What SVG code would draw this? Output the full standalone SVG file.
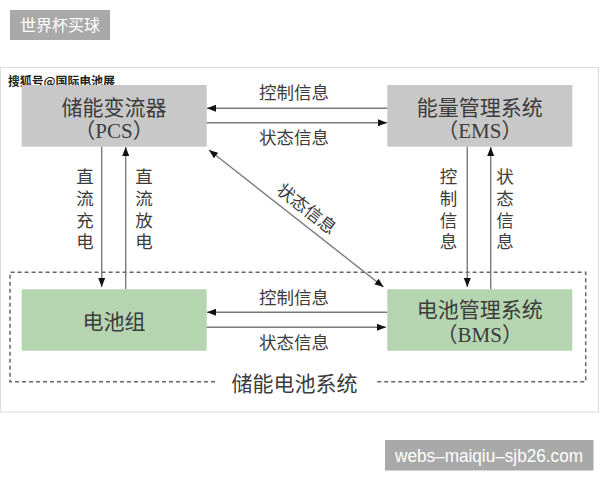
<svg xmlns="http://www.w3.org/2000/svg" width="600" height="480" viewBox="0 0 600 480">
<style>
.t{font-family:"Liberation Serif","Noto Sans CJK SC",serif;fill:#3c3c3c;text-anchor:middle;dominant-baseline:central}
.big{font-size:21px}
.lbl{font-size:17.5px}
.box-g{fill:#c8c8c8}
.box-v{fill:#b4d5af}
.ln{stroke:#7a7a7a;stroke-width:1.4;fill:none}
.wm{font-family:"Liberation Sans","Noto Sans CJK SC",sans-serif;fill:#fff}
</style>
<defs>
<marker id="ah" markerUnits="userSpaceOnUse" markerWidth="10" markerHeight="8" refX="9" refY="3.5" orient="auto-start-reverse">
<path d="M0,0 L9,3.5 L0,7 z" fill="#111"/>
</marker>
</defs>
<rect width="600" height="480" fill="#fff"/>
<g id="top-badge">
<rect x="10" y="10" width="100" height="30" fill="#a9a9a9"/>
<text class="wm" x="60" y="25" font-size="16" text-anchor="middle" dominant-baseline="central" font-family="Noto Sans CJK SC, sans-serif">世界杯买球</text>
</g>
<rect id="frame" x="0.5" y="67.5" width="598" height="344.5" fill="#fff" stroke="#dcdcdc" stroke-width="1"/>
<text id="watermark" x="8" y="80" font-family="Noto Sans CJK SC, sans-serif" font-size="12" font-weight="bold" fill="#222" stroke="#fff" stroke-width="2.5" paint-order="stroke" dominant-baseline="central" textLength="107">搜狐号@国际电池展</text>

<g id="storage-system">
<path d="M215,381.7 H10 V272.3 H585.7 V381.7 H375" fill="none" stroke="#666" stroke-width="1.5" stroke-dasharray="4 3"/>
<text class="t big" x="294.5" y="384">储能电池系统</text>
</g>

<g id="pcs">
<rect class="box-g" x="21.7" y="85" width="185" height="61.7"/>
<text class="t big" x="114" y="108.3">储能变流器</text>
<text class="t big" x="114" y="130.7">（PCS）</text>
</g>
<g id="ems">
<rect class="box-g" x="387.3" y="85" width="185" height="61.7"/>
<text class="t big" x="479.8" y="108.3">能量管理系统</text>
<text class="t big" x="479.8" y="130.7">（EMS）</text>
</g>
<g id="battery">
<rect class="box-v" x="21.7" y="289.3" width="185" height="61.4"/>
<text class="t big" x="114" y="321.7">电池组</text>
</g>
<g id="bms">
<rect class="box-v" x="387.3" y="289.3" width="185" height="61.4"/>
<text class="t big" x="479.8" y="310">电池管理系统</text>
<text class="t big" x="479.8" y="335">（BMS）</text>
</g>

<g id="connectors">
<line class="ln" x1="387.3" y1="108.3" x2="207" y2="108.3" marker-end="url(#ah)"/>
<line class="ln" x1="206.7" y1="122.7" x2="387" y2="122.7" marker-end="url(#ah)"/>
<line class="ln" x1="101.7" y1="146.7" x2="101.7" y2="287" marker-end="url(#ah)"/>
<line class="ln" x1="125.7" y1="289.3" x2="125.7" y2="147" marker-end="url(#ah)"/>
<line class="ln" x1="467.3" y1="146.7" x2="467.3" y2="287" marker-end="url(#ah)"/>
<line class="ln" x1="490.7" y1="289.3" x2="490.7" y2="147" marker-end="url(#ah)"/>
<line class="ln" x1="209" y1="150" x2="383.5" y2="287" marker-start="url(#ah)" marker-end="url(#ah)"/>
<line class="ln" x1="387.3" y1="312.3" x2="207" y2="312.3" marker-end="url(#ah)"/>
<line class="ln" x1="206.7" y1="327.3" x2="386" y2="327.3" marker-end="url(#ah)"/>

<text class="t lbl" x="294" y="93.3">控制信息</text>
<text class="t lbl" x="294" y="138.3">状态信息</text>
<text class="t lbl" x="294" y="297.7">控制信息</text>
<text class="t lbl" x="294" y="342.7">状态信息</text>
<text class="t lbl" transform="translate(306.5,209) rotate(38)" x="0" y="0">状态信息</text>

<text class="t lbl"><tspan x="85" y="177">直</tspan><tspan x="85" y="199">流</tspan><tspan x="85" y="221">充</tspan><tspan x="85" y="242">电</tspan></text>
<text class="t lbl"><tspan x="144" y="177">直</tspan><tspan x="144" y="199">流</tspan><tspan x="144" y="221">放</tspan><tspan x="144" y="242">电</tspan></text>
<text class="t lbl"><tspan x="448.5" y="177">控</tspan><tspan x="448.5" y="199">制</tspan><tspan x="448.5" y="221">信</tspan><tspan x="448.5" y="242">息</tspan></text>
<text class="t lbl"><tspan x="505" y="177">状</tspan><tspan x="505" y="199">态</tspan><tspan x="505" y="221">信</tspan><tspan x="505" y="242">息</tspan></text>
</g>

<g id="bottom-badge">
<rect x="385" y="440" width="208.5" height="30.5" fill="#a9a9a9"/>
<text class="wm" x="489" y="455.5" font-size="18" text-anchor="middle" dominant-baseline="central" textLength="188" lengthAdjust="spacingAndGlyphs">webs–maiqiu–sjb26.com</text>
</g>
</svg>
